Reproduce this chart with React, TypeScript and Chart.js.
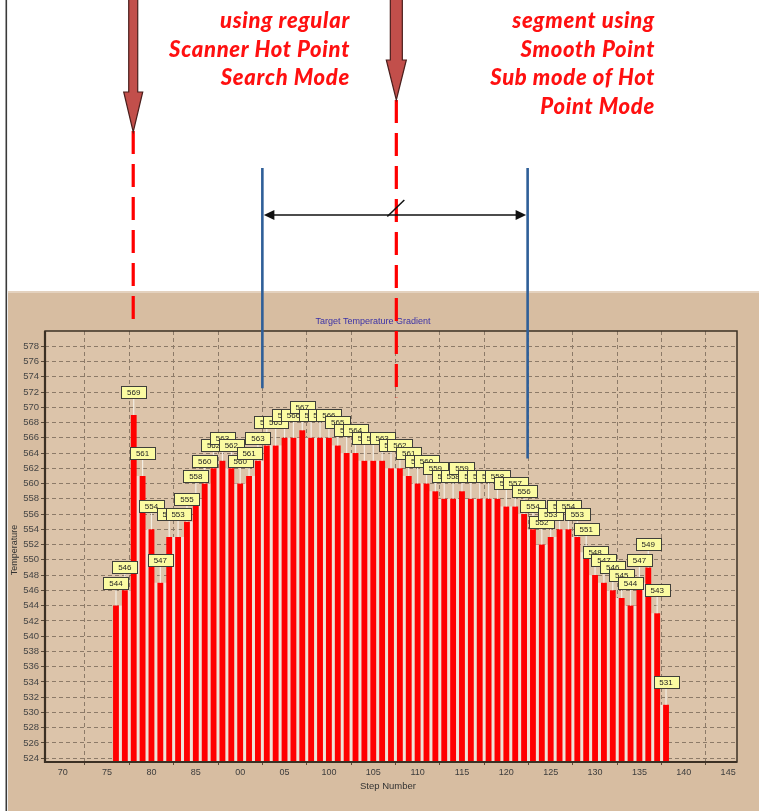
import React, { useEffect, useRef } from "react";
import { Chart, registerables } from "chart.js";

Chart.register(...registerables);

// ---------- data ----------
const steps = [
  76, 77, 78, 79, 80, 81, 82, 83, 84, 85, 86, 87, 88, 89, 90, 91, 92, 93, 94, 95, 96,
  97, 98, 99, 100, 101, 102, 103, 104, 105, 106, 107, 108, 109, 110, 111, 112, 113,
  114, 115, 116, 117, 118, 119, 120, 121, 122, 123, 124, 125, 126, 127, 128, 129, 130,
  131, 132, 133, 134, 135, 136, 137, 138,
];
const temperatures = [
  544, 546, 569, 561, 554, 547, 553, 553, 555, 558, 560, 562, 563, 562, 560, 561, 563,
  565, 565, 566, 566, 567, 566, 566, 566, 565, 564, 564, 563, 563, 563, 562, 562, 561,
  560, 560, 559, 558, 558, 559, 558, 558, 558, 558, 557, 557, 556, 554, 552, 553, 554,
  554, 553, 551, 548, 547, 546, 545, 544, 547, 549, 543, 531,
];
const yTickValues = [
  524, 526, 528, 530, 532, 534, 536, 538, 540, 542, 544, 546, 548, 550, 552, 554, 556,
  558, 560, 562, 564, 566, 568, 570, 572, 574, 576, 578,
];
const xTickValues = [70, 75, 80, 85, 90, 95, 100, 105, 110, 115, 120, 125, 130, 135, 140, 145];
const xTickLabels = ["70", "75", "80", "85", "00", "05", "100", "105", "110", "115", "120", "125", "130", "135", "140", "145"];
const chartTitle = "Target Temperature Gradient";
const xAxisTitle = "Step Number";
const yAxisTitle = "Temperature";
const leftNote = ["using regular", "Scanner Hot Point", "Search Mode"];
const rightNote = ["segment using", "Smooth Point", "Sub mode of Hot", "Point Mode"];

// annotation anchors in data units (step numbers / temperatures)
const arrowSteps = [78, 107.6];
const segmentSteps = [92.5, 122.4];

const W = 759;
const H = 811;

function downArrow(ctx: CanvasRenderingContext2D, cx: number, shaftW: number, headW: number, headTop: number, tipY: number) {
  ctx.beginPath();
  ctx.moveTo(cx - shaftW / 2, -2);
  ctx.lineTo(cx - shaftW / 2, headTop);
  ctx.lineTo(cx - headW / 2, headTop);
  ctx.lineTo(cx, tipY);
  ctx.lineTo(cx + headW / 2, headTop);
  ctx.lineTo(cx + shaftW / 2, headTop);
  ctx.lineTo(cx + shaftW / 2, -2);
  ctx.closePath();
  ctx.fillStyle = "#c24f4b";
  ctx.fill();
  ctx.strokeStyle = "#4a1e1c";
  ctx.lineWidth = 1.2;
  ctx.stroke();
}

const decorPlugin = {
  id: "decor",
  beforeDraw(chart: any) {
    const ctx: CanvasRenderingContext2D = chart.ctx;
    const a = chart.chartArea;
    ctx.save();
    ctx.fillStyle = "#ffffff";
    ctx.fillRect(0, 0, W, H);
    ctx.fillStyle = "#d7bda1";
    ctx.fillRect(8, 292, W - 8, H - 292);
    ctx.fillStyle = "#e4d2bf";
    ctx.fillRect(8, 291, W - 8, 2);
    ctx.fillStyle = "#dcc4aa";
    ctx.fillRect(a.left, a.top, a.right - a.left, a.bottom - a.top);
    // left black rule
    ctx.fillStyle = "#3a3a3a";
    ctx.fillRect(5.5, 0, 1.6, H);
    ctx.restore();
  },
  beforeDatasetsDraw(chart: any) {
    const ctx: CanvasRenderingContext2D = chart.ctx;
    const a = chart.chartArea;
    const els = chart.getDatasetMeta(0).data;
    ctx.save();
    ctx.beginPath();
    ctx.rect(a.left, a.top, a.right - a.left, a.bottom - a.top);
    ctx.clip();
    ctx.fillStyle = "#efe3d7";
    for (let i = 0; i < els.length - 1; i++) {
      const e1 = els[i];
      const e2 = els[i + 1];
      const top = Math.max(e1.y, e2.y);
      ctx.fillRect(e1.x, top, e2.x - e1.x, a.bottom - top);
    }
    ctx.restore();
  },
  afterDatasetsDraw(chart: any) {
    const ctx: CanvasRenderingContext2D = chart.ctx;
    const a = chart.chartArea;
    const els = chart.getDatasetMeta(0).data;
    ctx.save();
    // frame
    ctx.strokeStyle = "#3b3024";
    ctx.lineWidth = 1.5;
    ctx.strokeRect(a.left, a.top, a.right - a.left, a.bottom - a.top);
    ctx.lineWidth = 2.2;
    ctx.beginPath();
    ctx.moveTo(a.left, a.top);
    ctx.lineTo(a.left, a.bottom);
    ctx.lineTo(a.right, a.bottom);
    ctx.stroke();

    // connectors + value labels
    const bw = 25;
    const bh = 12;
    ctx.strokeStyle = "#f3eee4";
    ctx.lineWidth = 1.2;
    for (let i = 0; i < els.length; i++) {
      const el = els[i];
      ctx.beginPath();
      ctx.moveTo(el.x, el.y);
      ctx.lineTo(el.x, el.y - 17);
      ctx.stroke();
    }
    ctx.font = '8px "Liberation Sans", Arial, sans-serif';
    ctx.textAlign = "center";
    ctx.textBaseline = "middle";
    for (let i = 0; i < els.length; i++) {
      const el = els[i];
      const top = el.y - 29;
      const left = Math.round(el.x - bw / 2);
      ctx.fillStyle = "#fbfba2";
      ctx.fillRect(left, Math.round(top), bw, bh);
      ctx.strokeStyle = "#3f3f3a";
      ctx.lineWidth = 1;
      ctx.strokeRect(left + 0.5, Math.round(top) + 0.5, bw, bh);
      ctx.fillStyle = "#222";
      ctx.fillText(String(Math.round(temperatures[i])), el.x, Math.round(top) + bh / 2 + 1);
    }
    ctx.restore();
  },
  afterDraw(chart: any) {
    const ctx: CanvasRenderingContext2D = chart.ctx;
    const a = chart.chartArea;
    const xs = chart.scales.x;
    const ys = chart.scales.y;
    ctx.save();
    // titles
    ctx.font = '9px "Liberation Sans", Arial, sans-serif';
    ctx.fillStyle = "#3b32a6";
    ctx.textAlign = "center";
    ctx.textBaseline = "middle";
    ctx.fillText(chartTitle, 373, 322);
    ctx.fillStyle = "#333";
    ctx.font = '9.5px "Liberation Sans", Arial, sans-serif';
    ctx.fillText(xAxisTitle, (a.left + a.right) / 2 - 3, 786);
    ctx.save();
    ctx.translate(15, 550);
    ctx.rotate(-Math.PI / 2);
    ctx.font = '9px "Liberation Sans", Arial, sans-serif';
    ctx.fillText(yAxisTitle, 0, 0);
    ctx.restore();

    const ax1 = xs.getPixelForValue(arrowSteps[0]) - 0.5;
    const ax2 = xs.getPixelForValue(arrowSteps[1]);
    const b1 = xs.getPixelForValue(segmentSteps[0]);
    const b2 = xs.getPixelForValue(segmentSteps[1]);

    // red dashed lines
    ctx.strokeStyle = "#ff0000";
    ctx.lineWidth = 3.2;
    ctx.setLineDash([23, 10]);
    ctx.beginPath();
    ctx.moveTo(ax1, 131);
    ctx.lineTo(ax1, 319);
    ctx.stroke();
    ctx.beginPath();
    ctx.moveTo(ax2, 100);
    ctx.lineTo(ax2, ys.getPixelForValue(571.3));
    ctx.stroke();
    ctx.setLineDash([]);

    // arrows
    downArrow(ctx, ax1, 9, 19, 92, 132);
    downArrow(ctx, ax2, 12, 20, 60, 100);

    // blue segment markers
    ctx.strokeStyle = "#2f5f98";
    ctx.lineWidth = 2.6;
    ctx.beginPath();
    ctx.moveTo(b1, 168);
    ctx.lineTo(b1, ys.getPixelForValue(572.5));
    ctx.moveTo(b2, 168);
    ctx.lineTo(b2, ys.getPixelForValue(563.3));
    ctx.stroke();

    // double-headed arrow
    const ay = 215;
    ctx.strokeStyle = "#111";
    ctx.fillStyle = "#111";
    ctx.lineWidth = 1.5;
    ctx.beginPath();
    ctx.moveTo(b1 + 4, ay);
    ctx.lineTo(b2 - 4, ay);
    ctx.stroke();
    ctx.beginPath();
    ctx.moveTo(b1 + 1.5, ay);
    ctx.lineTo(b1 + 12, ay - 5);
    ctx.lineTo(b1 + 12, ay + 5);
    ctx.closePath();
    ctx.fill();
    ctx.beginPath();
    ctx.moveTo(b2 - 1.5, ay);
    ctx.lineTo(b2 - 12, ay - 5);
    ctx.lineTo(b2 - 12, ay + 5);
    ctx.closePath();
    ctx.fill();
    // slash
    ctx.beginPath();
    ctx.moveTo(ax2 - 9, ay + 1.5);
    ctx.lineTo(ax2 + 8, ay - 15);
    ctx.stroke();
    ctx.restore();
  },
};

export default function App() {
  const canvasRef = useRef<HTMLCanvasElement | null>(null);

  useEffect(() => {
    const canvas = canvasRef.current;
    if (!canvas) return;
    const chart = new Chart(canvas, {
      type: "bar",
      data: {
        datasets: [
          {
            data: steps.map((s, i) => ({ x: s, y: temperatures[i] })),
            backgroundColor: "#ff0000",
            borderWidth: 0,
            barPercentage: 0.66,
            categoryPercentage: 1,
          },
        ],
      },
      options: {
        responsive: false,
        animation: false,
        events: [],
        devicePixelRatio: 1,
        layout: { padding: { left: 8, top: 331, right: 22, bottom: 16 } },
        plugins: {
          legend: { display: false },
          tooltip: { enabled: false },
          title: { display: false },
        },
        scales: {
          x: {
            type: "linear",
            min: 68,
            max: 146,
            offset: false,
            afterBuildTicks: (scale: any) => {
              scale.ticks = xTickValues.map((v) => ({ value: v }));
            },
            afterFit: (scale: any) => {
              scale.height = 33;
            },
            ticks: {
              autoSkip: false,
              maxRotation: 0,
              padding: 2,
              color: "#3c3c3c",
              font: { family: '"Liberation Sans", Arial, sans-serif', size: 9 },
              callback: (value: any) => {
                const idx = xTickValues.indexOf(Number(value));
                return idx >= 0 ? xTickLabels[idx] : "";
              },
            },
            grid: {
              color: "#8c7a68",
              lineWidth: 1,
              drawTicks: true,
              tickLength: 3,
              tickColor: "#5a4a3a",
            },
            border: { display: false, dash: [4, 3] },
          },
          y: {
            type: "linear",
            min: 523.5,
            max: 580,
            afterBuildTicks: (scale: any) => {
              scale.ticks = yTickValues.map((v) => ({ value: v }));
            },
            afterFit: (scale: any) => {
              scale.width = 37;
            },
            ticks: {
              autoSkip: false,
              padding: 2,
              color: "#454545",
              font: { family: '"Liberation Sans", Arial, sans-serif', size: 9.5 },
              callback: (value: any) => String(value),
            },
            grid: {
              color: "#8c7a68",
              lineWidth: 1,
              drawTicks: true,
              tickLength: 4,
              tickColor: "#5a4a3a",
            },
            border: { display: false, dash: [4, 3] },
          },
        },
      },
      plugins: [decorPlugin],
    } as any);
    return () => chart.destroy();
  }, []);

  const noteStyle: React.CSSProperties = {
    position: "absolute",
    top: 6,
    left: 0,
    textAlign: "right",
    color: "#ff1010",
    fontFamily: 'Lato, "Open Sans", sans-serif',
    fontWeight: 900,
    fontStyle: "italic",
    fontSize: 22,
    letterSpacing: "0.7px",
    lineHeight: "28.5px",
    whiteSpace: "nowrap",
  };

  return (
    <div style={{ position: "absolute", left: 0, top: 0, width: W, height: H, overflow: "hidden", background: "#fff" }}>
      <canvas ref={canvasRef} width={W} height={H} style={{ display: "block", width: W, height: H }} />
      <div style={{ ...noteStyle, width: 350 }}>
        {leftNote.map((l) => (
          <div key={l}>{l}</div>
        ))}
      </div>
      <div style={{ ...noteStyle, width: 655 }}>
        {rightNote.map((l) => (
          <div key={l}>{l}</div>
        ))}
      </div>
    </div>
  );
}
